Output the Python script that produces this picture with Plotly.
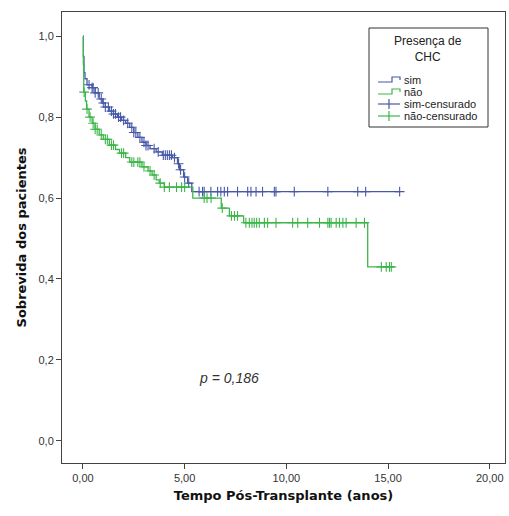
import plotly.graph_objects as go
import numpy as np

# Kaplan-Meier step data (time in years, survival)
sim_times = [0, 0.02, 0.05, 0.1, 0.2, 0.45, 0.6, 0.8, 0.95, 1.1, 1.3, 1.5, 1.7, 1.9, 2.1, 2.3, 2.5, 2.7,
             2.9, 3.1, 3.3, 3.6, 3.9, 4.4, 4.65, 4.75, 4.95, 5.15, 5.35, 15.6]
sim_surv = [1.0, 0.95, 0.91, 0.895, 0.88, 0.873, 0.86, 0.845, 0.835, 0.825, 0.815, 0.808, 0.80, 0.792,
            0.785, 0.775, 0.762, 0.75, 0.738, 0.73, 0.722, 0.714, 0.706, 0.70, 0.685, 0.67, 0.652,
            0.637, 0.616, 0.616]
nao_times = [0, 0.02, 0.04, 0.12, 0.18, 0.3, 0.45, 0.6, 0.8, 1.0, 1.3, 1.6, 1.8, 2.1, 2.3, 2.9, 3.2, 3.4,
             3.6, 3.75, 4.0, 5.4, 6.8, 7.2, 7.9, 14.0, 15.3]
nao_surv = [1.0, 0.93, 0.862, 0.84, 0.82, 0.80, 0.785, 0.77, 0.756, 0.745, 0.731, 0.72, 0.711, 0.70,
            0.689, 0.677, 0.667, 0.657, 0.645, 0.637, 0.627, 0.60, 0.575, 0.556, 0.539, 0.43, 0.43]

# censored observations (times)
sim_cens = [0.3, 0.45, 0.5, 0.6, 0.75, 0.9, 1.0, 1.1, 1.25, 1.4, 1.5, 1.6, 1.75, 1.85, 2.0, 2.2, 2.4,
            2.5, 2.6, 2.8, 3.0, 3.1, 3.2, 3.5, 3.7, 3.95, 4.05, 4.15, 4.25, 4.35, 4.5, 4.7, 4.8, 5.0,
            5.2, 5.71, 5.88, 5.96, 6.29, 6.62, 6.78, 6.95, 7.11, 7.6, 8.1, 8.26, 8.51, 8.83, 9.41,
            9.49, 10.39, 12.04, 13.51, 13.9, 15.57]
nao_cens = [0.06, 0.2, 0.35, 0.5, 0.6, 0.7, 0.9, 1.1, 1.2, 1.4, 1.5, 1.9, 2.0, 2.4, 2.5, 2.7, 2.8,
            3.0, 3.3, 3.5, 3.8, 4.0, 4.25, 4.6, 4.85, 5.0, 5.96, 6.1, 6.3, 6.85, 7.3, 7.45, 7.6,
            8.01, 8.18, 8.31, 8.42, 8.54, 8.67, 8.92, 9.08, 9.49, 10.31, 10.56, 11.05, 11.63,
            12.04, 12.12, 12.2, 12.45, 12.61, 12.78, 12.94, 13.43, 13.84, 14.67, 14.91, 15.07, 15.16]

x_ticks = [0, 5, 10, 15, 20]
x_tick_labels = ["0,00", "5,00", "10,00", "15,00", "20,00"]
y_ticks = [0.0, 0.2, 0.4, 0.6, 0.8, 1.0]
y_tick_labels = ["0,0", "0,2", "0,4", "0,6", "0,8", "1,0"]
legend_labels = ["sim", "não", "sim-censurado", "não-censurado"]
legend_title = "Presença de<br>CHC"

BLUE = "#4759a8"
GREEN = "#3db54a"
FONT = "Liberation Sans, Arial"

W, H = 509, 516
ML, MR, MT, MB = 62, 4, 12, 53
PW, PH = W - ML - MR, H - MT - MB


def px(x):
    return (x - ML) / PW


def py(y):
    return 1 - (y - MT) / PH


def step_value(times, surv, t):
    idx = np.searchsorted(np.array(times), t, side="right") - 1
    return surv[max(idx, 0)]


fig = go.Figure()
fig.add_trace(go.Scatter(x=sim_times, y=sim_surv, mode="lines", line=dict(color=BLUE, width=1.3, shape="hv"),
                         name=legend_labels[0]))
fig.add_trace(go.Scatter(x=nao_times, y=nao_surv, mode="lines", line=dict(color=GREEN, width=1.3, shape="hv"),
                         name=legend_labels[1]))
fig.add_trace(go.Scatter(x=sim_cens, y=[step_value(sim_times, sim_surv, t) for t in sim_cens], mode="markers",
                         marker=dict(symbol="cross-thin", size=7, line=dict(color=BLUE, width=1.1)),
                         name=legend_labels[2]))
fig.add_trace(go.Scatter(x=nao_cens, y=[step_value(nao_times, nao_surv, t) for t in nao_cens], mode="markers",
                         marker=dict(symbol="cross-thin", size=7, line=dict(color=GREEN, width=1.1)),
                         name=legend_labels[3]))

fig.add_annotation(x=7.2, y=0.156, text="<i>p = 0,186</i>", showarrow=False,
                   font=dict(family=FONT, size=14, color="#333"))

# custom legend (box, centered title, step glyphs and censor glyphs)
shapes = []
box = dict(x0=369, x1=488, y0=28, y1=127)
shapes.append(dict(type="rect", xref="paper", yref="paper", x0=px(box["x0"]), x1=px(box["x1"]),
                   y0=py(box["y1"]), y1=py(box["y0"]), line=dict(color="#333", width=1),
                   fillcolor="white", layer="above"))
fig.add_annotation(xref="paper", yref="paper", x=px(428), y=py(49), text=legend_title, showarrow=False,
                   align="center", xanchor="center", yanchor="middle",
                   font=dict(family=FONT, size=12, color="#222"))
row_y = [80, 92, 104, 116]
colors = [BLUE, GREEN, BLUE, GREEN]
for i, (lab, yy, c) in enumerate(zip(legend_labels, row_y, colors)):
    if i < 2:
        path = (f"M {px(378)} {py(yy + 2)} L {px(392)} {py(yy + 2)} L {px(392)} {py(yy - 3)} "
                f"L {px(400)} {py(yy - 3)} L {px(400)} {py(yy)}")
        shapes.append(dict(type="path", xref="paper", yref="paper", path=path,
                           line=dict(color=c, width=1.2), layer="above"))
    else:
        shapes.append(dict(type="line", xref="paper", yref="paper", x0=px(378), x1=px(400),
                           y0=py(yy), y1=py(yy), line=dict(color=c, width=1.2), layer="above"))
        shapes.append(dict(type="line", xref="paper", yref="paper", x0=px(389), x1=px(389),
                           y0=py(yy - 5), y1=py(yy + 5), line=dict(color=c, width=1.2), layer="above"))
    fig.add_annotation(xref="paper", yref="paper", x=px(402), y=py(yy), text=lab, showarrow=False,
                       xanchor="left", yanchor="middle", font=dict(family=FONT, size=11, color="#222"))

axis_common = dict(showline=True, linecolor="#444", linewidth=1, mirror=True, ticks="outside",
                   ticklen=5, tickcolor="#444", showgrid=False, zeroline=False, automargin=False,
                   tickfont=dict(family=FONT, size=11, color="#333"))

fig.update_layout(
    width=W, height=H,
    margin=dict(l=ML, r=MR, t=MT, b=MB),
    paper_bgcolor="white", plot_bgcolor="white",
    shapes=shapes,
    showlegend=False,
    xaxis=dict(range=[-1.03, 20.75], tickvals=x_ticks, ticktext=x_tick_labels,
               title=dict(text="<b>Tempo Pós-Transplante (anos)</b>", standoff=7,
                          font=dict(family="DejaVu Sans", size=13, color="#111")), **axis_common),
    yaxis=dict(range=[-0.055, 1.06], tickvals=y_ticks, ticktext=y_tick_labels,
               title=dict(text="<b>Sobrevida dos pacientes</b>", standoff=8,
                          font=dict(family="DejaVu Sans", size=13, color="#111")), **axis_common),
)

fig.write_html("out.html", config={"displayModeBar": False},
               post_script="document.body.style.margin='0';document.body.style.overflow='hidden';")
